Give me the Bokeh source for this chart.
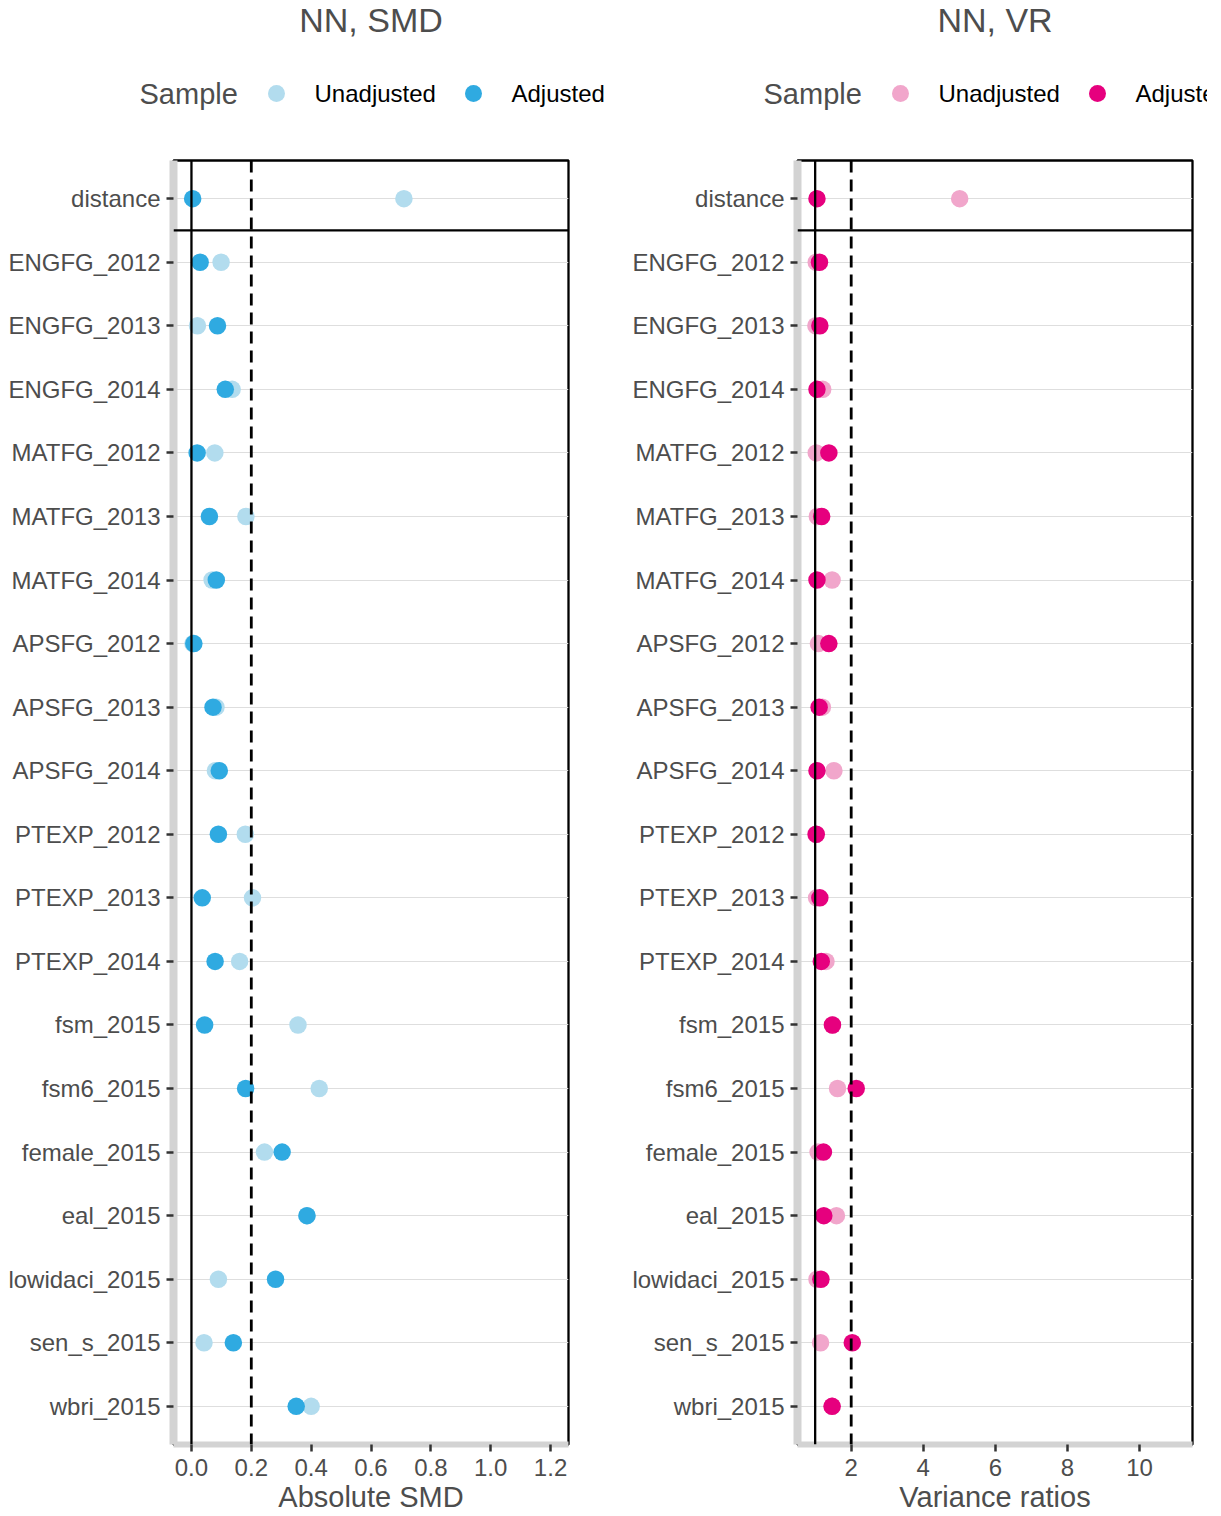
from bokeh.plotting import figure
from bokeh.models import Range1d, FactorRange, Span, FixedTicker, PrintfTickFormatter, ColumnDataSource
from bokeh.layouts import row, column
from bokeh.embed import file_html
from bokeh.resources import INLINE
from bokeh.core.properties import value

# ---- balance statistics (nearest-neighbour matching) ----
covariates = ["distance", "ENGFG_2012", "ENGFG_2013", "ENGFG_2014",
              "MATFG_2012", "MATFG_2013", "MATFG_2014",
              "APSFG_2012", "APSFG_2013", "APSFG_2014",
              "PTEXP_2012", "PTEXP_2013", "PTEXP_2014",
              "fsm_2015", "fsm6_2015", "female_2015", "eal_2015",
              "lowidaci_2015", "sen_s_2015", "wbri_2015"]

smd_unadjusted = [0.710, 0.099, 0.020, 0.136, 0.078, 0.182, 0.069, 0.005, 0.082, 0.080,
                  0.180, 0.204, 0.161, 0.356, 0.427, 0.244, 0.386, 0.090, 0.042, 0.400]
smd_adjusted = [0.004, 0.029, 0.087, 0.113, 0.019, 0.060, 0.083, 0.008, 0.072, 0.093,
                0.090, 0.036, 0.079, 0.044, 0.181, 0.303, 0.386, 0.281, 0.140, 0.350]

vr_unadjusted = [5.01, 1.03, 1.02, 1.21, 1.03, 1.06, 1.47, 1.09, 1.20, 1.52,
                 1.02, 1.04, 1.30, 1.48, 1.62, 1.08, 1.59, 1.05, 1.15, 1.47]
vr_adjusted = [1.05, 1.12, 1.13, 1.05, 1.38, 1.18, 1.05, 1.38, 1.11, 1.05,
               1.03, 1.13, 1.17, 1.48, 2.14, 1.23, 1.24, 1.16, 2.03, 1.47]

sample_labels = ["Unadjusted", "Adjusted"]
smd_ticks = [0.0, 0.2, 0.4, 0.6, 0.8, 1.0, 1.2]
vr_ticks = [2, 4, 6, 8, 10]

# ---- styling ----
FONT = "Liberation Sans"
GREY_TEXT = "#4D4D4D"
AXIS_GREY = "#D3D3D3"
SMD_COLORS = ["#B2DCEE", "#2FAAE1"]
VR_COLORS = ["#F1A6CB", "#E6007E"]

HEADER_H = 150
MAIN_H = 1516 - HEADER_H
FRAME_LEFT = 173
FRAME_RIGHT = 568


def header(width, title, colors):
    # header strip: data units are canvas pixels (x from the left, y from the top)
    h = figure(width=width, height=HEADER_H, title=None,
               x_range=Range1d(FRAME_LEFT, FRAME_RIGHT), y_range=Range1d(HEADER_H, 0),
               x_axis_type=None, y_axis_type=None,
               toolbar_location=None, output_backend="svg",
               min_border_left=FRAME_LEFT, min_border_right=width - FRAME_RIGHT,
               min_border_top=0, min_border_bottom=0, outline_line_color=None)
    centre = (FRAME_LEFT + FRAME_RIGHT) / 2
    h.text(x=[centre], y=[19], text=[title], text_font=value(FONT),
           text_font_size=value("34px"), text_color=GREY_TEXT,
           text_align="center", text_baseline="middle", level="overlay")
    legend_y = 93
    h.text(x=[139], y=[legend_y], text=["Sample"], text_font=value(FONT),
           text_font_size=value("29px"), text_color=GREY_TEXT,
           text_align="left", text_baseline="middle", level="overlay")
    key_x = [276 + 197 * i for i in range(len(sample_labels))]
    label_x = [k + 38 for k in key_x]
    h.scatter(x=key_x, y=[legend_y] * len(key_x), size=17, color=colors,
              line_color=None, level="overlay")
    h.text(x=label_x, y=[legend_y] * len(label_x), text=sample_labels,
           text_font=value(FONT), text_font_size=value("24px"), text_color="black",
           text_align="left", text_baseline="middle", level="overlay")
    return h


def panel(width, x_range, ticks, formatter, axis_title, unadj, adj, colors, ref, thresh):
    p = figure(width=width, height=MAIN_H, title=None,
               x_range=x_range,
               y_range=FactorRange(factors=covariates[::-1], range_padding=0.1,
                                   range_padding_units="absolute"),
               toolbar_location=None, output_backend="svg",
               min_border_left=FRAME_LEFT, min_border_right=width - FRAME_RIGHT,
               min_border_top=10, min_border_bottom=72)

    src = ColumnDataSource(dict(covariate=covariates, unadjusted=unadj, adjusted=adj))

    p.add_layout(Span(location=ref, dimension="height", line_color="black", line_width=2.3))
    p.add_layout(Span(location=thresh, dimension="height", line_color="black",
                      line_width=2.8, line_dash="12 7"))
    # separator between the propensity distance and the covariates
    p.add_layout(Span(location=len(covariates) - 1, dimension="width",
                      line_color="black", line_width=2.3))

    p.scatter("unadjusted", "covariate", source=src, size=17.5, color=colors[0], line_color=None)
    p.scatter("adjusted", "covariate", source=src, size=17.5, color=colors[1], line_color=None)

    p.xaxis.ticker = FixedTicker(ticks=ticks)
    if formatter is not None:
        p.xaxis.formatter = formatter
    for ax in (p.xaxis[0], p.yaxis[0]):
        ax.axis_line_color = AXIS_GREY
        ax.major_tick_line_color = "#333333"
        ax.major_tick_line_width = 2.5
        ax.major_tick_out = 7
        ax.major_tick_in = 0
        ax.minor_tick_line_color = None
        ax.major_label_text_font = FONT
        ax.major_label_text_font_size = "24px"
        ax.major_label_text_color = GREY_TEXT
        ax.major_label_text_line_height = 1.0
    p.yaxis.axis_line_width = 8
    p.xaxis.axis_line_width = 6
    p.yaxis.major_label_standoff = 6
    p.xaxis.major_label_standoff = 7
    p.xaxis.axis_label = axis_title
    p.xaxis.axis_label_text_font = FONT
    p.xaxis.axis_label_text_font_size = "29px"
    p.xaxis.axis_label_text_font_style = "normal"
    p.xaxis.axis_label_text_color = GREY_TEXT
    p.xaxis.axis_label_text_line_height = 1.0
    p.xaxis.axis_label_standoff = 2

    p.xgrid.visible = False
    p.ygrid.grid_line_color = "#DEDEDE"
    p.ygrid.grid_line_width = 1.2
    p.outline_line_color = "black"
    p.outline_line_width = 2.3
    return p


LEFT_W = 624
RIGHT_W = 583

left = column(
    header(LEFT_W, "NN, SMD", SMD_COLORS),
    panel(LEFT_W, Range1d(-0.06, 1.26), smd_ticks, PrintfTickFormatter(format="%.1f"),
          "Absolute SMD", smd_unadjusted, smd_adjusted, SMD_COLORS, 0, 0.2),
)
right = column(
    header(RIGHT_W, "NN, VR", VR_COLORS),
    panel(RIGHT_W, Range1d(0.51, 11.47), vr_ticks, None,
          "Variance ratios", vr_unadjusted, vr_adjusted, VR_COLORS, 1, 2),
)

layout = row(left, right)

with open("out.html", "w") as f:
    f.write(file_html(layout, INLINE))
